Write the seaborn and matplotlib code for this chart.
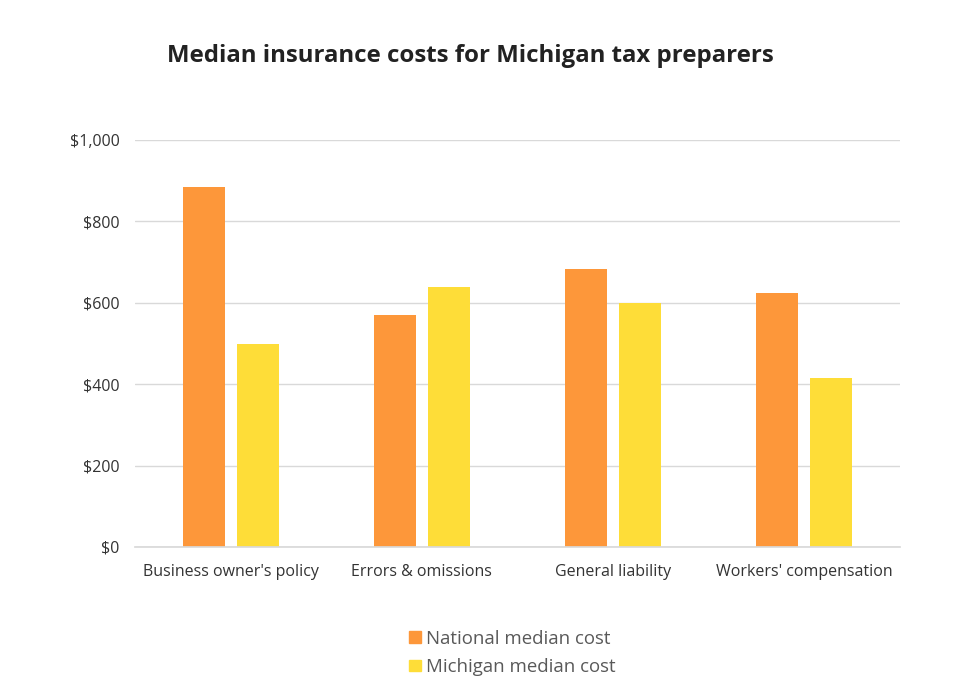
import pandas as pd
import matplotlib
matplotlib.use("Agg")
import matplotlib.pyplot as plt
import seaborn as sns
from matplotlib.ticker import FuncFormatter

categories = ["Business owner's policy", "Errors & omissions",
              "General liability", "Workers' compensation"]
national = [885, 570, 683, 625]
michigan = [500, 640, 600, 415]
series_names = ["National median cost", "Michigan median cost"]
colors = ["#fd973a", "#fedd38"]
yticks = [0, 200, 400, 600, 800, 1000]

df = pd.DataFrame({
    "category": categories * 2,
    "cost": national + michigan,
    "series": [series_names[0]] * 4 + [series_names[1]] * 4,
})

sns.set_theme(style="white")
plt.rcParams["font.family"] = ["Open Sans", "DejaVu Sans"]

fig = plt.figure(figsize=(9.58, 6.82), dpi=100)
ax = fig.add_axes([135 / 958, 1 - 547 / 682, 765 / 958, 407 / 682])

sns.barplot(data=df, x="category", y="cost", hue="series",
            palette=colors, width=0.565, gap=0.22, saturation=1,
            linewidth=0, legend=False, ax=ax)

ax.set_ylim(0, 1000)
ax.set_xlim(-0.5, 3.5)
ax.set_yticks(yticks)
ax.yaxis.set_major_formatter(FuncFormatter(lambda v, p: f"${v:,.0f}"))
ax.grid(axis="y", color="#d9d9d9", linewidth=1)
ax.set_axisbelow(True)
for s in ["top", "right", "left"]:
    ax.spines[s].set_visible(False)
ax.spines["bottom"].set_color("#d9d9d9")
ax.tick_params(axis="both", length=0, labelsize=11.5, colors="#333333")
ax.tick_params(axis="x", pad=12)
ax.tick_params(axis="y", pad=11)
ax.set_xlabel("")
ax.set_ylabel("")

fig.text(0.491, 1 - 56 / 682, "Median insurance costs for Michigan tax preparers",
         ha="center", va="center", fontsize=17.3, fontweight="bold", color="#222222")

handles = [plt.Rectangle((0, 0), 1, 1, color=c) for c in colors]
fig.legend(handles, series_names, loc="center", bbox_to_anchor=(0.535, 1 - 653 / 682),
           frameon=False, fontsize=13.4, labelcolor="#595959",
           handlelength=0.6, handleheight=0.6, handletextpad=0.3,
           labelspacing=0.55)

fig.savefig("out.png", dpi=100, facecolor="white")
